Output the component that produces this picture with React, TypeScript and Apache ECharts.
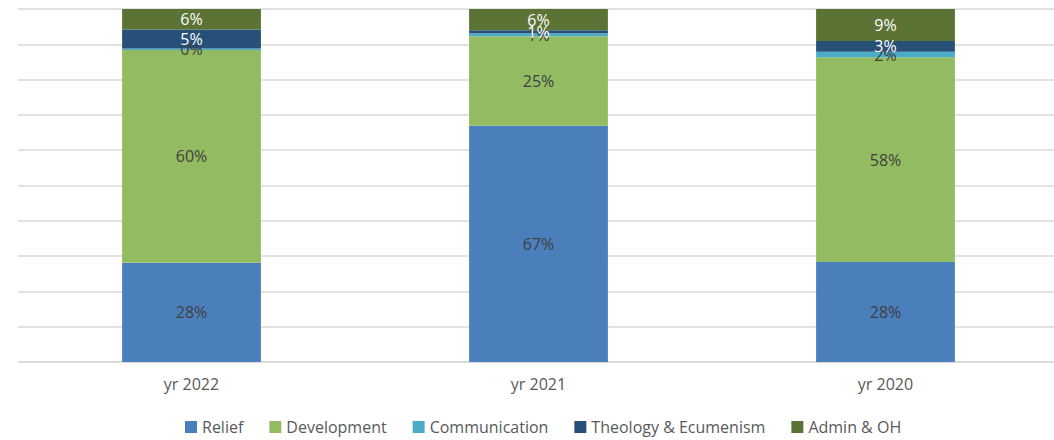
import React, { useEffect, useRef } from "react";
import * as echarts from "echarts";

const categories = ["yr 2022", "yr 2021", "yr 2020"];
const seriesNames = ["Relief", "Development", "Communication", "Theology & Ecumenism", "Admin & OH"];
const relief = [28.1, 66.9, 28.3];
const development = [60.3, 25.4, 58.0];
const communication = [0.4, 0.8, 1.6];
const theology = [5.4, 0.9, 3.0];
const adminOH = [5.8, 6.0, 9.1];
const colors = ["#4a7fbc", "#93bb62", "#4aacc6", "#265078", "#5b7335"];
const labelColors = ["#404040", "#404040", "#404040", "#ffffff", "#ffffff"];

const FONT = "'Open Sans', sans-serif";

export default function App() {
  const ref = useRef<HTMLDivElement>(null);
  useEffect(() => {
    if (!ref.current) return;
    const chart = echarts.init(ref.current, undefined, { renderer: "svg" });
    const data = [relief, development, communication, theology, adminOH];
    chart.setOption({
      animation: false,
      textStyle: { fontFamily: FONT },
      grid: { left: 18, right: 0, top: 9, bottom: 78, containLabel: false },
      legend: {
        bottom: 0,
        left: 180,
        icon: "rect",
        itemWidth: 12,
        itemHeight: 12,
        itemGap: 26,
        textStyle: { fontSize: 16, color: "#595959", fontFamily: FONT },
        data: seriesNames,
      },
      xAxis: {
        type: "category",
        data: categories,
        axisTick: { show: false },
        axisLine: { lineStyle: { color: "#d9d9d9", width: 1.5 } },
        axisLabel: { color: "#595959", fontSize: 16, margin: 14, fontFamily: FONT },
      },
      yAxis: {
        type: "value",
        min: 0,
        max: 100,
        interval: 10,
        axisLabel: { show: false },
        axisLine: { show: false },
        axisTick: { show: false },
        splitLine: { lineStyle: { color: "#d9d9d9", width: 1.5 } },
      },
      series: seriesNames.map((name, i) => ({
        name,
        type: "bar",
        stack: "total",
        barWidth: "40%",
        itemStyle: { color: colors[i] },
        label: {
          show: true,
          position: "inside",
          color: labelColors[i],
          fontSize: 16,
          fontFamily: FONT,
          formatter: (p: any) => Math.round(p.value) + "%",
        },
        data: data[i],
      })),
    });
    return () => chart.dispose();
  }, []);
  return (
    <div style={{ position: "absolute", left: 0, top: 0, width: 1054, height: 440, overflow: "hidden", background: "#fff" }}>
      <div ref={ref} style={{ width: 1059, height: 440 }} />
    </div>
  );
}
